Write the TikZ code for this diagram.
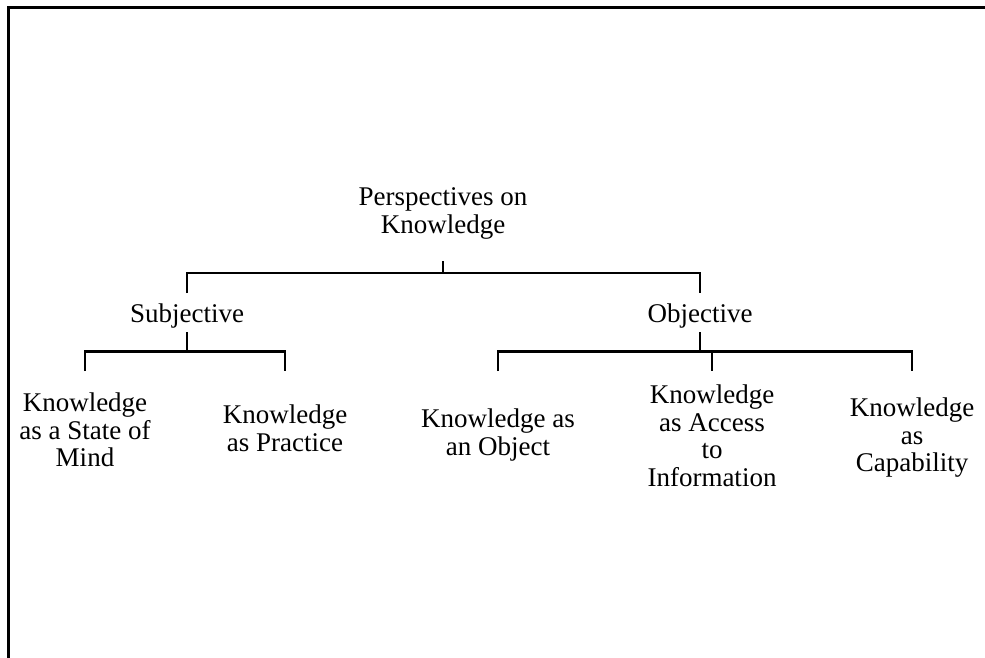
\documentclass[tikz,border=0pt]{standalone}
\usepackage{fontspec}
\setmainfont{Liberation Serif}
\tikzset{
    x=1pt, y=-1pt,
    every node/.style={inner sep=0pt, align=center, font=\fontsize{27}{27.5}\selectfont},
    item/.style={anchor=north},
    head/.style={anchor=base},
    branch/.style={line width=2.5pt},
    frame/.style={line width=3pt}
}
\begin{document}
\begin{tikzpicture}
    \useasboundingbox (0,0) rectangle (985,657);
    \draw[frame] (8,700) -- (8,7) -- (1000,7);

    \node[head] (root) at (443,233) {Perspectives on\\Knowledge};
    \node[head] (subj) at (187,322) {Subjective};
    \node[head] (obj) at (700,322) {Objective};

    \node[item] (mind) at (85,392.6) {Knowledge\\as a State of\\Mind};
    \node[item] (practice) at (285,404.6) {Knowledge\\as Practice};
    \node[item] (object) at (498,408.6) {Knowledge as\\an Object};
    \node[item] (access) at (712,384.6) {Knowledge\\as Access\\to\\Information};
    \node[item] (capability) at (912,397.6) {Knowledge\\as\\Capability};

    % levels of the tree
    \coordinate (lvl1) at (0,261);
    \coordinate (bar1) at (0,273);
    \coordinate (end1) at (0,293);
    \coordinate (lvl2) at (0,332);
    \coordinate (bar2) at (0,351.5);
    \coordinate (end2) at (0,371);

    \draw[branch] (root |- lvl1) -- (root |- bar1);
    \draw[branch] (subj |- end1) |- (root |- bar1) -| (obj |- end1);

    \draw[branch] (subj |- lvl2) -- (subj |- bar2);
    \draw[branch] (mind |- end2) |- (subj |- bar2) -| (practice |- end2);

    \draw[branch] (obj |- lvl2) -- (obj |- bar2);
    \draw[branch] (object |- end2) |- (obj |- bar2) -| (capability |- end2);
    \draw[branch] (access |- bar2) -- (access |- end2);
\end{tikzpicture}
\end{document}
